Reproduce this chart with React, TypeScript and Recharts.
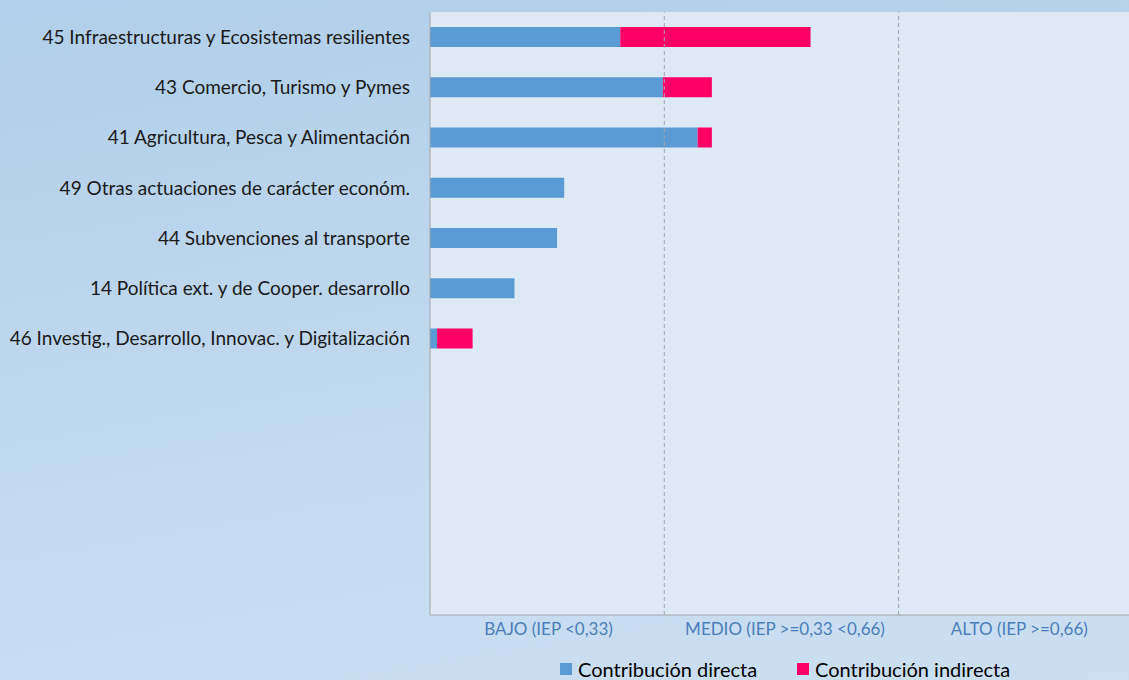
import { BarChart, Bar, XAxis, YAxis, CartesianGrid, Legend, ReferenceLine } from 'recharts';

const categories = [
  '45 Infraestructuras y Ecosistemas resilientes',
  '43 Comercio, Turismo y Pymes',
  '41 Agricultura, Pesca y Alimentación',
  '49 Otras actuaciones de carácter económ.',
  '44 Subvenciones al transporte',
  '14 Política ext. y de Cooper. desarrollo',
  '46 Investig., Desarrollo, Innovac. y Digitalización',
];
const directa = [0.268, 0.328, 0.377, 0.189, 0.179, 0.119, 0.01];
const indirecta = [0.268, 0.069, 0.02, 0, 0, 0, 0.05];
// empty rows kept at the bottom like the original
const emptyRows = 5;

const levelTicks = [0.167, 0.5, 0.83];
const levelLabels = ['BAJO (IEP <0,33)', 'MEDIO (IEP >=0,33 <0,66)', 'ALTO (IEP >=0,66)'];
const thresholds = [0.33, 0.66];

const data = [
  ...categories.map((name, i) => ({ name, directa: directa[i], indirecta: indirecta[i] })),
  ...Array.from({ length: emptyRows }, () => ({ name: '', directa: 0, indirecta: 0 })),
];

const BLUE = '#5b9bd5';
const PINK = '#ff0066';
const GRID = '#a6a6a6';
const FONT = 'Lato, "Open Sans", sans-serif';

function LegendBox() {
  const item = (color: string, label: string, left: number) => (
    <div style={{ position: 'absolute', left, top: 12, display: 'flex', alignItems: 'center', height: 24 }}>
      <span style={{ width: 12, height: 12, background: color, display: 'inline-block', marginRight: 6 }} />
      <span style={{ fontSize: 20, color: '#000', lineHeight: '24px' }}>{label}</span>
    </div>
  );
  return (
    <div style={{ position: 'relative', height: 35, fontFamily: FONT }}>
      {item(BLUE, 'Contribución directa', 560)}
      {item(PINK, 'Contribución indirecta', 797)}
    </div>
  );
}

export default function App() {
  return (
    <div
      style={{
        position: 'absolute',
        left: 0,
        top: 0,
        width: 1129,
        height: 680,
        overflow: 'hidden',
        background: 'linear-gradient(170deg, #b0cfea 0%, #c3daef 60%, #cbdff2 100%)',
        fontFamily: FONT,
      }}
    >
      <BarChart
        width={1150}
        height={680}
        data={data}
        layout="vertical"
        barSize={20}
        margin={{ top: 12, right: 10, left: 0, bottom: 0 }}
      >
        <CartesianGrid horizontal={false} vertical={false} fill="#dde9f5" />
        <XAxis
          type="number"
          domain={[0, 1]}
          ticks={levelTicks}
          tickFormatter={(v: number) => levelLabels[levelTicks.indexOf(v)]}
          tickLine={false}
          tickSize={0}
          tickMargin={8}
          height={30}
          stroke={GRID}
          tick={{ fill: '#4a7ebb', fontSize: 17, fontFamily: FONT }}
        />
        <XAxis
          xAxisId="top"
          orientation="top"
          type="number"
          domain={[0, 1]}
          tick={false}
          tickLine={false}
          height={0}
          stroke={GRID}
        />
        <YAxis
          type="category"
          dataKey="name"
          width={430}
          tickLine={false}
          tickSize={0}
          tickMargin={20}
          stroke={GRID}
          interval={0}
          tick={{ fill: '#1a1a1a', fontSize: 19, fontFamily: FONT }}
        />
        {thresholds.map((t) => (
          <ReferenceLine key={t} x={t} stroke={GRID} strokeDasharray="4 3" />
        ))}
        <Bar dataKey="directa" stackId="a" fill={BLUE} isAnimationActive={false} />
        <Bar dataKey="indirecta" stackId="a" fill={PINK} isAnimationActive={false} />
        <Legend verticalAlign="bottom" content={() => <LegendBox />} />
      </BarChart>
    </div>
  );
}
